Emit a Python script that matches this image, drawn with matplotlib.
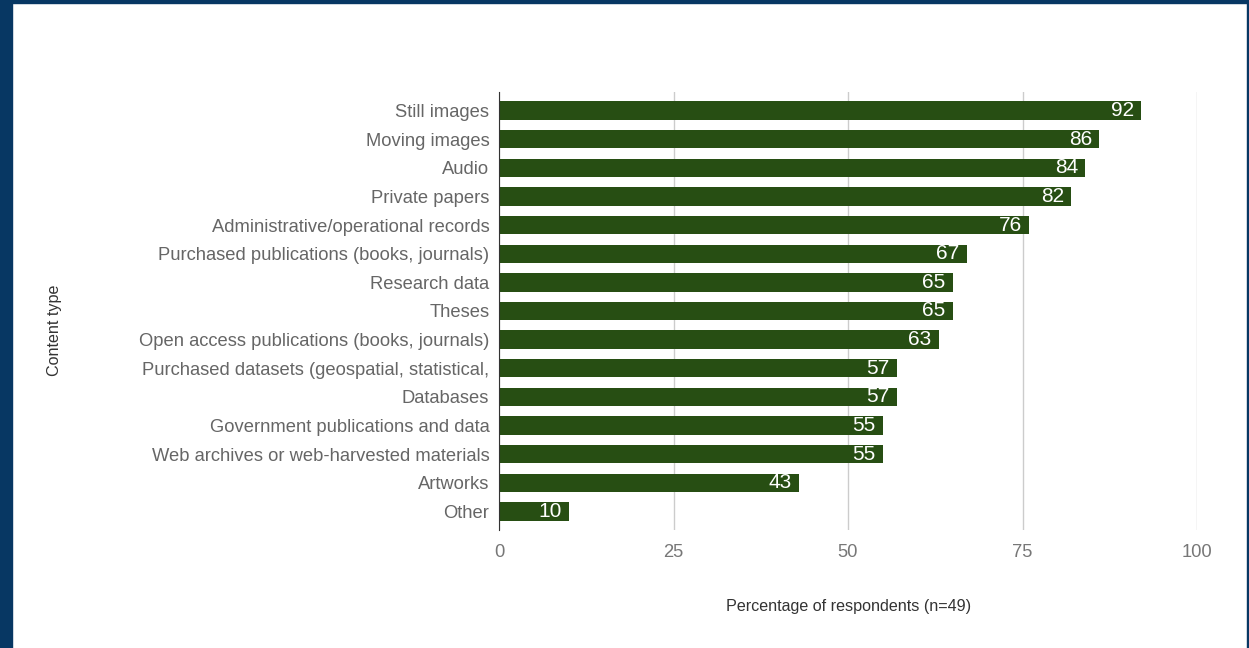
import matplotlib.pyplot as plt
from matplotlib.patches import Rectangle

categories = [
    "Still images",
    "Moving images",
    "Audio",
    "Private papers",
    "Administrative/operational records",
    "Purchased publications (books, journals)",
    "Research data",
    "Theses",
    "Open access publications (books, journals)",
    "Purchased datasets (geospatial, statistical,",
    "Databases",
    "Government publications and data",
    "Web archives or web-harvested materials",
    "Artworks",
    "Other",
]
values = [92, 86, 84, 82, 76, 67, 65, 65, 63, 57, 57, 55, 55, 43, 10]
x_ticks = [0, 25, 50, 75, 100]

BAR_COLOR = "#274e13"
BORDER_COLOR = "#073763"

plt.rcParams["font.family"] = ["Liberation Sans", "DejaVu Sans"]

fig = plt.figure(figsize=(12.49, 6.48), dpi=100)
ax = fig.add_axes([499 / 1249, 1 - 530 / 648, 698 / 1249, 438 / 648])

pos = list(range(len(categories)))
ax.barh(pos, values, height=0.64, color=BAR_COLOR, zorder=3)
for p, v in zip(pos, values):
    ax.annotate(str(v), xy=(v, p), xytext=(-7, 0), textcoords="offset pixels",
                ha="right", va="center", color="white", fontsize=15, zorder=4)

ax.set_xlim(0, 100)
ax.set_ylim(len(categories) - 0.35, -0.65)
ax.set_xticks(x_ticks)
ax.set_yticks(pos)
ax.set_yticklabels(categories)
ax.tick_params(axis="y", length=0, pad=7, labelsize=13.2, labelcolor="#666666")
ax.tick_params(axis="x", length=0, pad=10, labelsize=13.2, labelcolor="#777777")
ax.grid(axis="x", color="#cccccc", linewidth=1, zorder=0)
for side in ["top", "right", "bottom"]:
    ax.spines[side].set_visible(False)
ax.spines["left"].set_color("#333333")
ax.spines["left"].set_zorder(5)

fig.text(849 / 1249, 1 - 606 / 648, "Percentage of respondents (n=49)",
         ha="center", va="center", fontsize=11.6, color="#333333")
fig.text(55 / 1249, 1 - 330 / 648, "Content type", rotation=90,
         ha="center", va="center", fontsize=11.6, color="#333333")

# navy frame around the slide
fig.patches.append(Rectangle((0, 0), 12 / 1249, 1, transform=fig.transFigure,
                             color=BORDER_COLOR, zorder=10))
fig.patches.append(Rectangle((0, 1 - 3 / 648), 1, 3 / 648, transform=fig.transFigure,
                             color=BORDER_COLOR, zorder=10))
fig.patches.append(Rectangle((1 - 2 / 1249, 0), 2 / 1249, 1, transform=fig.transFigure,
                             color=BORDER_COLOR, zorder=10))

fig.savefig("out.png", dpi=100)
